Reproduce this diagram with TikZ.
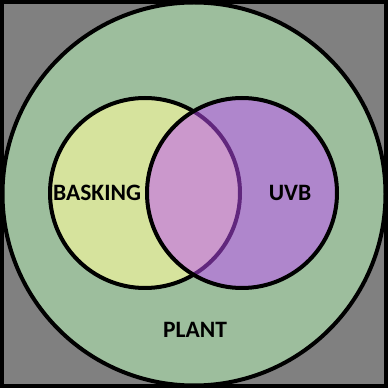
\documentclass[tikz,border=0pt]{standalone}
\usepackage{fontspec}
\setmainfont{Carlito}
\usetikzlibrary{positioning}
\definecolor{plantcolor}{RGB}{157,190,157}
\definecolor{baskcolor}{RGB}{214,227,157}
\definecolor{uvbcolor}{RGB}{194,79,251}
\definecolor{framegray}{RGB}{128,128,128}
\tikzset{
  setring/.style={circle, draw=black, line width=4pt, inner sep=0pt},
  setlabel/.style={font=\fontsize{23.5}{27}\selectfont\bfseries, text=black},
}

\begin{document}
\begin{tikzpicture}[x=1pt,y=1pt]
    % frame
    \fill[black] (0,0) rectangle (388,388);
    \fill[framegray] (4,4) rectangle (384,384);
    \useasboundingbox (0,0) rectangle (388,388);

    % outer set
    \node[setring, fill=plantcolor, minimum size=383pt] (plant) at (194,194) {};

    % inner sets
    \node[setring, fill=baskcolor, minimum size=190pt] (basking) at (145,195) {};
    \node[setring, fill=uvbcolor, fill opacity=0.5, minimum size=190pt] (uvb) at (242,195) {};

    % labels
    \node[setlabel] (baskingtext) at (97,195) {BASKING};
    \node[setlabel] (uvbtext) at (290,195) {UVB};
    \node[setlabel] (planttext) at (195,58) {PLANT};
  \end{tikzpicture}
\end{document}
